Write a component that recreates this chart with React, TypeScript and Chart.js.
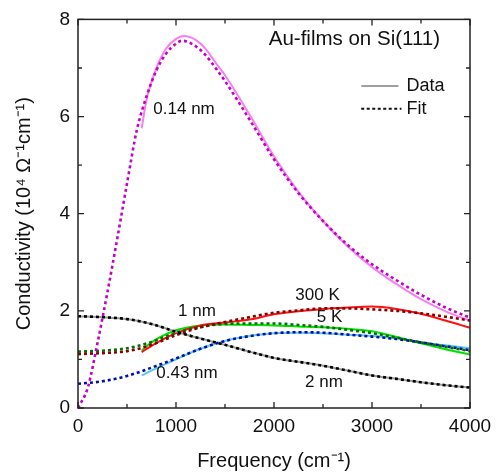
import React, { useEffect, useRef } from "react";
import { Chart, registerables } from "chart.js";

Chart.register(...registerables);

const FONT = "'Liberation Sans', Arial, Helvetica, sans-serif";

// Frequency grids (cm^-1)
const fitFreq = [0, 250, 500, 750, 1000, 1250, 1500, 1750, 2000, 2250, 2500, 2750, 3000, 3250, 3500, 3750, 4000];
const dataFreq = [650, 750, 1000, 1250, 1500, 1750, 2000, 2250, 2500, 2750, 3000, 3250, 3500, 3750, 4000];

// 0.14 nm
const thinFitFreq = [0, 100, 200, 300, 400, 500, 600, 700, 800, 900, 1000, 1060, 1100, 1200, 1300, 1415, 1500, 1750, 2000, 2250, 2500, 2750, 3000, 3250, 3500, 3750, 4000];
const thinFit = [0, 0.42, 1.35, 2.38, 3.48, 4.62, 5.72, 6.42, 6.95, 7.3, 7.5, 7.56, 7.55, 7.45, 7.27, 6.97, 6.73, 5.94, 5.12, 4.42, 3.85, 3.36, 2.96, 2.63, 2.33, 2.07, 1.86];
const thinDataFreq = [650, 700, 800, 900, 1000, 1080, 1200, 1300, 1415, 1500, 1750, 2000, 2250, 2500, 2750, 3000, 3250, 3500, 3750, 4000];
const thinData = [5.76, 6.35, 7.0, 7.4, 7.6, 7.66, 7.58, 7.4, 7.08, 6.85, 6.04, 5.18, 4.45, 3.85, 3.33, 2.9, 2.55, 2.24, 1.99, 1.8];

// 2 nm
const thickFit = [1.89, 1.87, 1.83, 1.73, 1.57, 1.43, 1.3, 1.16, 1.03, 0.95, 0.87, 0.77, 0.67, 0.6, 0.53, 0.47, 0.42];
const thickData = [1.89, 1.87, 1.83, 1.73, 1.57, 1.43, 1.3, 1.16, 1.03, 0.95, 0.87, 0.77, 0.67, 0.6, 0.53, 0.47, 0.42];

// 1 nm, 300 K
const warmFit = [1.11, 1.13, 1.17, 1.3, 1.5, 1.66, 1.77, 1.87, 1.96, 2.01, 2.05, 2.05, 2.03, 2.0, 1.95, 1.88, 1.8];
const warmData = [1.15, 1.28, 1.54, 1.7, 1.76, 1.82, 1.93, 1.99, 2.04, 2.07, 2.09, 2.04, 1.94, 1.8, 1.65];

// 1 nm, 5 K
const coldFit = [1.16, 1.18, 1.23, 1.36, 1.55, 1.67, 1.73, 1.74, 1.74, 1.71, 1.67, 1.61, 1.54, 1.45, 1.35, 1.26, 1.17];
const coldData = [1.18, 1.35, 1.6, 1.7, 1.72, 1.71, 1.7, 1.68, 1.66, 1.63, 1.58, 1.46, 1.33, 1.21, 1.1];

// 0.43 nm
const midFit = [0.5, 0.55, 0.66, 0.83, 1.02, 1.22, 1.38, 1.48, 1.54, 1.56, 1.55, 1.51, 1.47, 1.42, 1.35, 1.27, 1.19];
const midData = [0.67, 0.77, 1.0, 1.22, 1.38, 1.48, 1.54, 1.55, 1.54, 1.51, 1.48, 1.43, 1.35, 1.29, 1.23];

// Curve labels (placed in data coordinates)
const curveLabels = ["0.14 nm", "1 nm", "300 K", "5 K", "0.43 nm", "2 nm"];
const labelFreq = [1082, 1214, 2444, 2566, 1112, 2510];
const labelValue = [6.14, 2.0, 2.31, 1.86, 0.71, 0.53];

const titleText = "Au-films on Si(111)";
const legendLabels = ["Data", "Fit"];

const xTicks = [0, 1000, 2000, 3000, 4000];
const yTicks = [0, 2, 4, 6, 8];

const pts = (xs: number[], ys: number[]) => xs.map((x, i) => ({ x, y: ys[i] }));

const solid = (label: string, data: any[], color: string) => ({
  label,
  data,
  borderColor: color,
  backgroundColor: color,
  borderWidth: 2,
  pointRadius: 0,
  cubicInterpolationMode: "monotone" as const,
  fill: false,
  order: 2,
});

const dotted = (label: string, data: any[], color: string) => ({
  label,
  data,
  borderColor: color,
  backgroundColor: color,
  borderWidth: 2.6,
  borderDash: [3, 3],
  pointRadius: 0,
  cubicInterpolationMode: "monotone" as const,
  fill: false,
  order: 1,
});

const framePlugin = {
  id: "frame",
  afterDraw(chart: any) {
    const { ctx, chartArea: a, scales } = chart;
    const xs = scales.x;
    const ys = scales.y;
    ctx.save();
    ctx.strokeStyle = "#222";
    ctx.lineWidth = 1.5;
    ctx.strokeRect(a.left, a.top, a.right - a.left, a.bottom - a.top);
    ctx.lineWidth = 1.3;
    ctx.beginPath();
    for (let v = 0; v <= 4000; v += 500) {
      const len = v % 1000 === 0 ? 6 : 4;
      const px = xs.getPixelForValue(v);
      ctx.moveTo(px, a.bottom);
      ctx.lineTo(px, a.bottom - len);
      ctx.moveTo(px, a.top);
      ctx.lineTo(px, a.top + len);
    }
    for (let v = 0; v <= 8; v += 1) {
      const len = v % 2 === 0 ? 6 : 4;
      const py = ys.getPixelForValue(v);
      ctx.moveTo(a.left, py);
      ctx.lineTo(a.left + len, py);
      ctx.moveTo(a.right, py);
      ctx.lineTo(a.right - len, py);
    }
    ctx.stroke();

    // curve labels
    ctx.fillStyle = "#111";
    ctx.font = `17px ${FONT}`;
    ctx.textAlign = "center";
    ctx.textBaseline = "middle";
    curveLabels.forEach((t, i) => {
      ctx.fillText(t, xs.getPixelForValue(labelFreq[i]), ys.getPixelForValue(labelValue[i]));
    });

    // title
    ctx.font = `20.5px ${FONT}`;
    ctx.fillText(titleText, xs.getPixelForValue(2820), ys.getPixelForValue(7.59));

    // legend
    const lx0 = xs.getPixelForValue(2890);
    const lx1 = xs.getPixelForValue(3270);
    const ly0 = ys.getPixelForValue(6.63);
    const ly1 = ys.getPixelForValue(6.16);
    ctx.strokeStyle = "#808080";
    ctx.lineWidth = 1.5;
    ctx.setLineDash([]);
    ctx.beginPath();
    ctx.moveTo(lx0, ly0);
    ctx.lineTo(lx1, ly0);
    ctx.stroke();
    ctx.strokeStyle = "#111";
    ctx.lineWidth = 2;
    ctx.setLineDash([3, 2.5]);
    ctx.beginPath();
    ctx.moveTo(lx0, ly1);
    ctx.lineTo(lx1 + 3, ly1);
    ctx.stroke();
    ctx.setLineDash([]);
    ctx.font = `18px ${FONT}`;
    ctx.textAlign = "left";
    ctx.fillText(legendLabels[0], lx1 + 8, ly0);
    ctx.fillText(legendLabels[1], lx1 + 8, ly1);
    ctx.restore();
  },
};

export default function App() {
  const ref = useRef<HTMLCanvasElement>(null);
  useEffect(() => {
    if (!ref.current) return;
    const chart = new Chart(ref.current, {
      type: "line",
      data: {
        datasets: [
          solid("0.14 nm data", pts(thinDataFreq, thinData), "#f77ff2"),
          dotted("0.14 nm fit", pts(thinFitFreq, thinFit), "#c400c8"),
          solid("2 nm data", pts(fitFreq, thickData), "#9a9a9a"),
          dotted("2 nm fit", pts(fitFreq, thickFit), "#000000"),
          solid("300 K data", pts(dataFreq, warmData), "#ff1010"),
          dotted("300 K fit", pts(fitFreq, warmFit), "#8a0000"),
          solid("5 K data", pts(dataFreq, coldData), "#00e000"),
          dotted("5 K fit", pts(fitFreq, coldFit), "#007000"),
          solid("0.43 nm data", pts(dataFreq, midData), "#5cc8ee"),
          dotted("0.43 nm fit", pts(fitFreq, midFit), "#0010a0"),
        ],
      },
      options: {
        responsive: false,
        animation: false,
        maintainAspectRatio: false,
        layout: { padding: { top: 15, right: 29, left: 0, bottom: 0 } },
        plugins: { legend: { display: false }, tooltip: { enabled: false } },
        scales: {
          x: {
            type: "linear",
            min: 0,
            max: 4000,
            afterBuildTicks: (s: any) => {
              s.ticks = xTicks.map((v) => ({ value: v }));
            },
            afterFit: (s: any) => {
              s.height = 67;
            },
            grid: { display: false, drawTicks: false },
            border: { display: false },
            ticks: {
              color: "#111",
              font: { family: FONT, size: 19 },
              padding: 7,
              maxRotation: 0,
              callback: (v: any) => String(v),
            },
            title: {
              display: true,
              text: "Frequency (cm\u207B\u00B9)",
              color: "#111",
              font: { family: FONT, size: 20 },
              padding: { top: 0, bottom: 2 },
            },
          },
          y: {
            type: "linear",
            min: 0,
            max: 8,
            afterBuildTicks: (s: any) => {
              s.ticks = yTicks.map((v) => ({ value: v }));
            },
            afterFit: (s: any) => {
              s.width = 78;
            },
            grid: { display: false, drawTicks: false },
            border: { display: false },
            ticks: {
              color: "#111",
              font: { family: FONT, size: 19 },
              padding: 8,
              callback: (v: any) => String(v),
            },
            title: {
              display: true,
              text: "Conductivity (10\u2074 \u03A9\u207B\u00B9cm\u207B\u00B9)",
              color: "#111",
              font: { family: FONT, size: 20 },
              padding: { top: 12, bottom: 0 },
            },
          },
        },
      },
      plugins: [framePlugin],
    });
    return () => chart.destroy();
  }, []);
  return (
    <div style={{ position: "fixed", left: 0, top: 0, width: 499, height: 475, background: "#fff" }}>
      <canvas ref={ref} width={499} height={475} style={{ display: "block", width: 499, height: 475 }} />
    </div>
  );
}
